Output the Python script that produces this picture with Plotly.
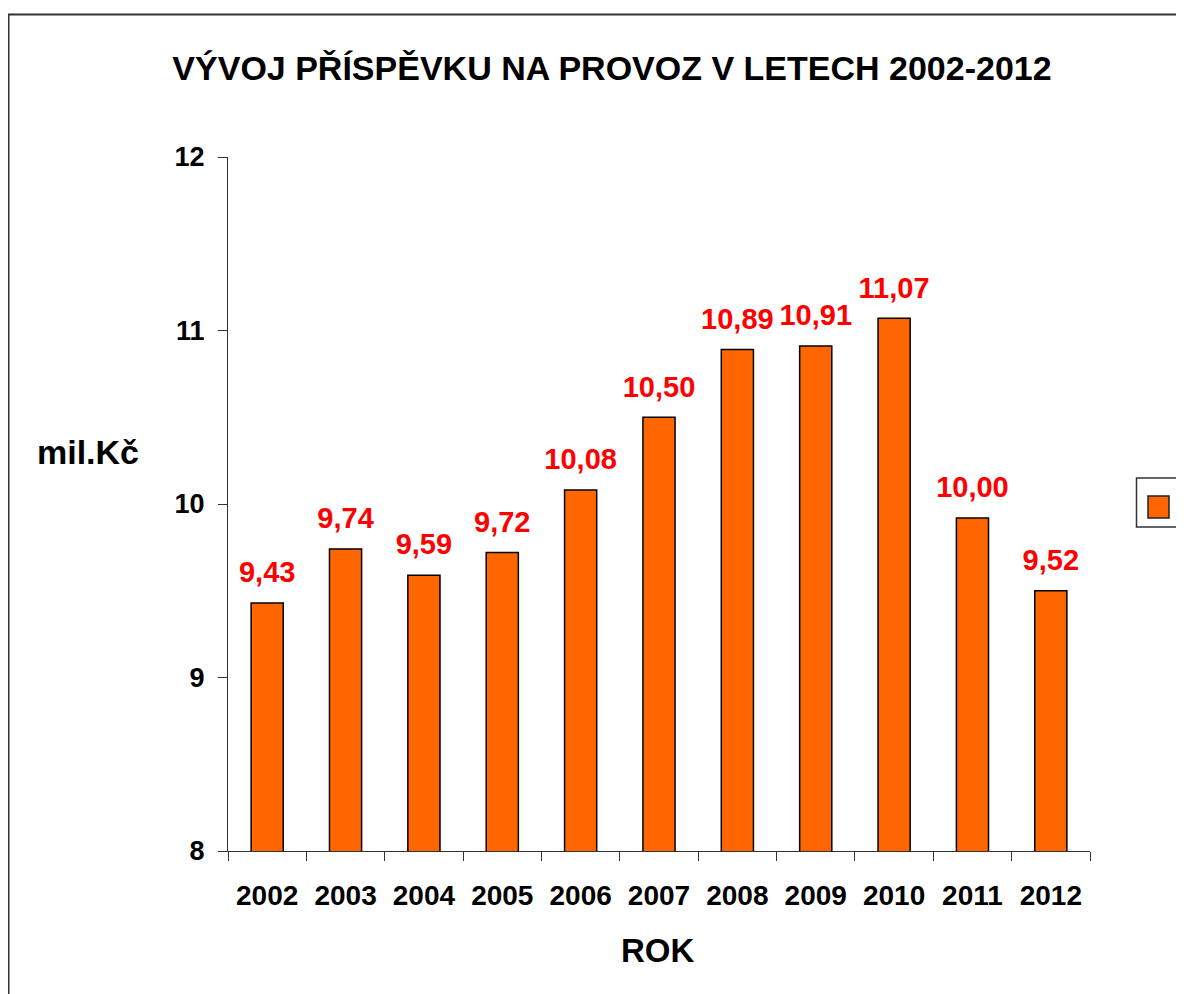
import plotly.graph_objects as go

years = ["2002", "2003", "2004", "2005", "2006", "2007", "2008", "2009", "2010", "2011", "2012"]
values = [9.43, 9.74, 9.59, 9.72, 10.08, 10.50, 10.89, 10.91, 11.07, 9.92, 9.50]
labels = ["9,43", "9,74", "9,59", "9,72", "10,08", "10,50", "10,89", "10,91", "11,07", "10,00", "9,52"]
y_ticks = [8, 9, 10, 11, 12]

FONT = "Liberation Sans, Arial, sans-serif"
OFF = 8  # page body margin

W, H = 1184, 994
# plot area in reference screen coordinates
PL, PR, PT, PB = 228, 1090, 157, 851
L = PL - OFF
T = PT - OFF
pw, ph = PR - PL, PB - PT
R = W - L - pw
B = H - T - ph

def px(x):
    return (x - PL) / pw

def py(y):
    return (PB - y) / ph

fig = go.Figure()
fig.add_trace(go.Bar(
    x=years, y=values,
    marker=dict(color="#FF6600", line=dict(color="black", width=1.5)),
    width=0.41, showlegend=False, hoverinfo="x+y",
))
fig.add_trace(go.Scatter(
    x=years, y=values, text=labels, mode="markers+text", textposition="top center",
    textfont=dict(family=FONT, size=29, color="#FF0000", weight="bold"),
    marker=dict(size=20, color="rgba(0,0,0,0)"),
    cliponaxis=False, showlegend=False, hoverinfo="skip",
))

shapes = [
    dict(type="rect", xref="paper", yref="paper", x0=px(8.5), x1=px(1210), y0=py(14.5), y1=py(1030),
         line=dict(color="#333333", width=2), fillcolor="rgba(0,0,0,0)"),
    dict(type="rect", xref="paper", yref="paper", x0=px(1136.5), x1=px(1210), y0=py(478), y1=py(527),
         line=dict(color="#333333", width=1.5), fillcolor="white"),
    dict(type="rect", xref="paper", yref="paper", x0=px(1148), x1=px(1169), y0=py(496), y1=py(518),
         line=dict(color="#222222", width=1.5), fillcolor="#FF6600"),
]

fig.update_layout(
    width=W, height=H,
    margin=dict(l=L, r=R, t=T, b=B),
    paper_bgcolor="white", plot_bgcolor="white",
    font=dict(family=FONT, color="black"),
    title=dict(text="VÝVOJ PŘÍSPĚVKU NA PROVOZ V LETECH 2002-2012",
               x=(612 - OFF) / W, xanchor="center", y=1 - (68 - OFF) / H, yanchor="middle",
               font=dict(family=FONT, size=34, color="black", weight="bold")),
    xaxis=dict(range=[-0.5, len(years) - 0.5], showline=True, linecolor="#333333", linewidth=1.2,
               ticks="outside", ticklen=9,
               tickcolor="#333333", tickson="boundaries", showgrid=False,
               tickfont=dict(family=FONT, size=28, color="black", weight="bold"),
               ticklabelstandoff=19),
    yaxis=dict(range=[8, 12], tickvals=y_ticks, showline=True, linecolor="#333333", linewidth=1.2,
               ticks="outside", ticklen=9, tickcolor="#333333", showgrid=False, zeroline=False,
               tickfont=dict(family=FONT, size=27, color="black", weight="bold"),
               ticklabelstandoff=8),
    shapes=shapes,
    annotations=[
        dict(text="mil.Kč", xref="paper", yref="paper", x=px(88), y=py(452),
             xanchor="center", yanchor="middle", showarrow=False,
             font=dict(family=FONT, size=34, color="black", weight="bold")),
        dict(text="ROK", xref="paper", yref="paper", x=px(658), y=py(950),
             xanchor="center", yanchor="middle", showarrow=False,
             font=dict(family=FONT, size=33, color="black", weight="bold")),
    ],
)

fig.write_html("out.html")
